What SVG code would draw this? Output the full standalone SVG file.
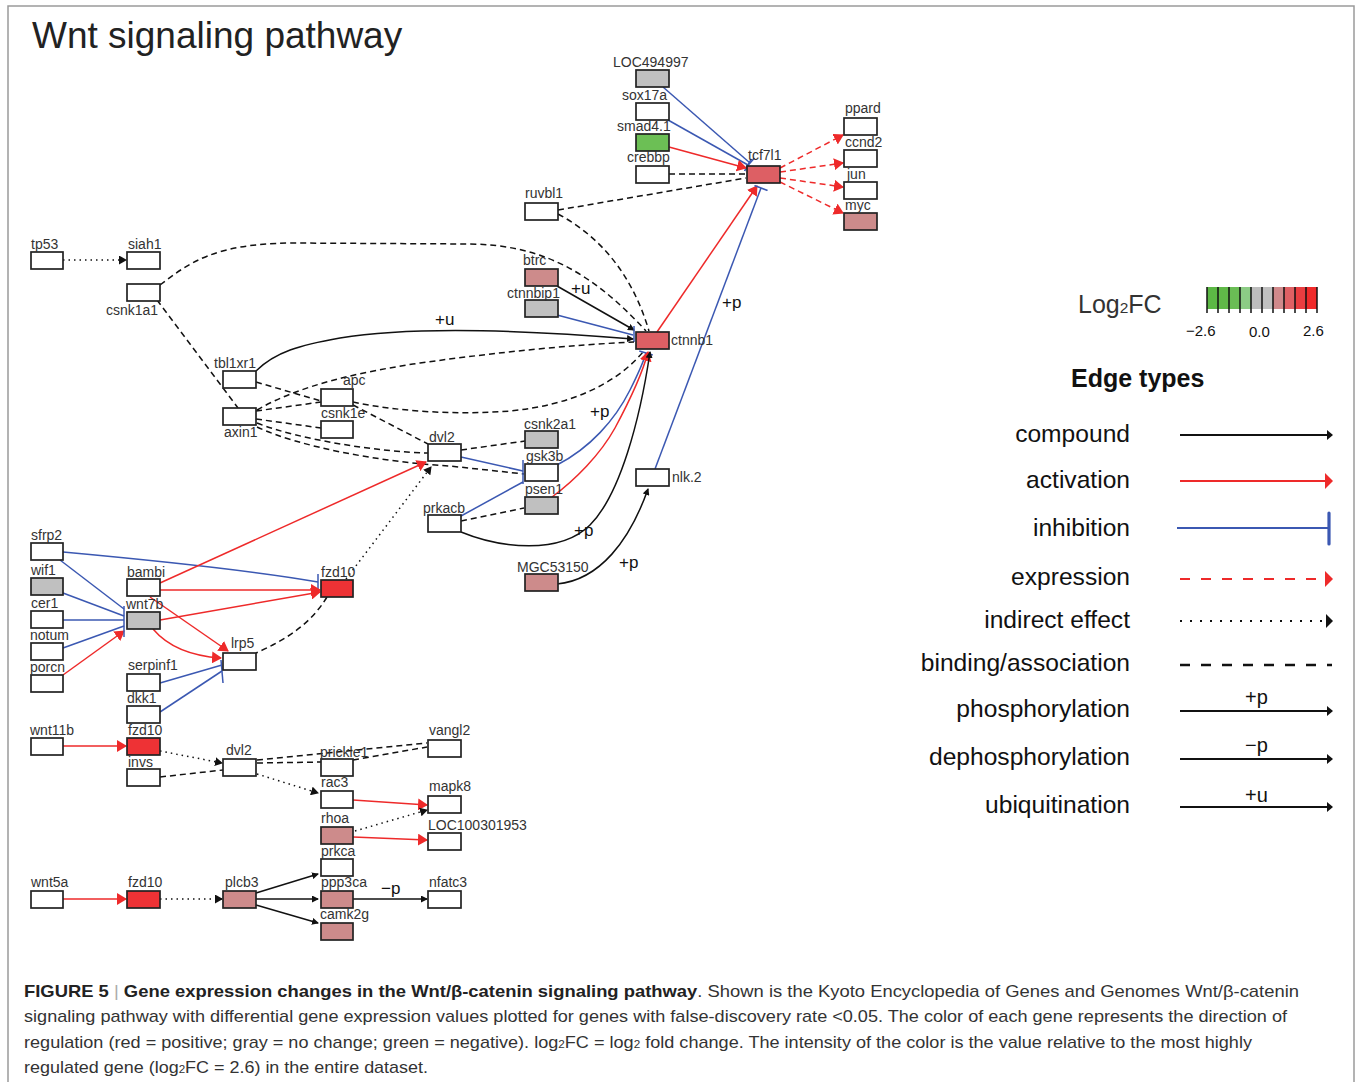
<svg xmlns="http://www.w3.org/2000/svg" width="1359" height="1082" viewBox="0 0 1359 1082">
<style>
  .n rect{stroke:#222;stroke-width:1.7}
  .w{fill:#fff}.g{fill:#c0c0c0}.gr{fill:#6cbf55}.r{fill:#dd5f64}.pk{fill:#cd8b8b}.fr{fill:#ee3235}
  .n text{font-family:"Liberation Sans",Arial,sans-serif;font-size:14px;fill:#333}
  .e{fill:none;stroke-width:1.5}
  .bk{stroke:#111}.rd{stroke:#ee2a2a}.bl{stroke:#3b58b2}
  .da{stroke-dasharray:6 4}.dt{stroke-dasharray:1.5 4}
  .el{font-family:"Liberation Sans",Arial,sans-serif;font-size:17px;fill:#111}
  .lg{font-family:"Liberation Sans",Arial,sans-serif;font-size:24.6px;fill:#111;text-anchor:end}
  .cap{font-family:"Liberation Sans",Arial,sans-serif;font-size:17px;fill:#333}
</style>
<defs>
  <marker id="ar" markerUnits="userSpaceOnUse" viewBox="0 0 10 12" markerWidth="10" markerHeight="12" refX="9" refY="6" orient="auto"><path d="M0,0 L10,6 L0,12 z" fill="#ee2a2a"/></marker>
  <marker id="ab" markerUnits="userSpaceOnUse" viewBox="0 0 7 7" markerWidth="7" markerHeight="7" refX="6" refY="3.5" orient="auto"><path d="M0,0 L7,3.5 L0,7 z" fill="#111"/></marker>
  <marker id="ad" markerUnits="userSpaceOnUse" viewBox="0 0 8 9" markerWidth="8" markerHeight="9" refX="7" refY="4.5" orient="auto"><path d="M0,0 L8,4.5 L0,9 z" fill="#111"/></marker>
  <marker id="tb" markerUnits="userSpaceOnUse" viewBox="0 0 4 14" markerWidth="4" markerHeight="14" refX="2" refY="7" orient="auto"><path d="M2,0 L2,14" stroke="#3b58b2" stroke-width="1.6"/></marker>
  <marker id="lab" markerUnits="userSpaceOnUse" viewBox="0 0 6 10" markerWidth="6" markerHeight="10" refX="5" refY="5" orient="auto"><path d="M0,0 L6,5 L0,10 z" fill="#111"/></marker>
  <marker id="lar" markerUnits="userSpaceOnUse" viewBox="0 0 8 16" markerWidth="8" markerHeight="16" refX="7" refY="8" orient="auto"><path d="M0,0 L8,8 L0,16 z" fill="#ee2a2a"/></marker>
  <marker id="lad" markerUnits="userSpaceOnUse" viewBox="0 0 7 14" markerWidth="7" markerHeight="14" refX="6" refY="7" orient="auto"><path d="M0,0 L7,7 L0,14 z" fill="#111"/></marker>
</defs>

<rect width="1359" height="1082" fill="#fff"/>
<path d="M8,1082 L8,6 L1354,6 L1354,1082" fill="none" stroke="#9a9a9a" stroke-width="1.5"/>
<text x="32" y="48" font-family="Liberation Sans,Arial,sans-serif" font-size="37" fill="#222">Wnt signaling pathway</text>

<!-- connectors -->
<g id="edges">
  <!-- tcf7l1 inputs -->
  <path class="e bl" d="M663,87 L750,163" marker-end="url(#tb)"/>
  <path class="e bl" d="M668,120 L748,165" marker-end="url(#tb)"/>
  <path class="e rd" d="M669,147 L746,168" marker-end="url(#ar)"/>
  <path class="e bk da" d="M669,174 L746,174"/>
  <path class="e bk da" d="M558,210 L746,178"/>
  <path class="e rd" d="M657,332 L757,186" marker-end="url(#ar)"/>
  <path class="e bl" d="M655,469 L761,188" marker-end="url(#tb)"/>
  <!-- tcf7l1 targets -->
  <path class="e rd da" d="M780,168 L843,135" marker-end="url(#ar)"/>
  <path class="e rd da" d="M780,172 L843,163" marker-end="url(#ar)"/>
  <path class="e rd da" d="M780,178 L843,187" marker-end="url(#ar)"/>
  <path class="e rd da" d="M780,182 L843,213" marker-end="url(#ar)"/>
  <!-- destruction complex to ctnnb1 -->
  <path class="e bk dt" d="M63,260 L126,260" marker-end="url(#ad)"/>
  <path class="e bk da" d="M160,285 C190,262 215,244 290,243 L470,244 C540,245 590,270 646,331"/>
  <path class="e bk da" d="M558,214 Q625,250 649,331"/>
  <path class="e bk" d="M557,286 L634,330" marker-end="url(#ab)"/>
  <path class="e bl" d="M557,315 L633,335"/>
  <path class="e bl" d="M634,326 L634,342" stroke-width="1.8"/>
  <path class="e bk" d="M256,371 C275,352 300,345 340,338 C400,328 500,328 633,339" marker-end="url(#ab)"/>
  <path class="e bk da" d="M257,410 C300,385 360,372 420,363 C500,352 570,345 634,342"/>
  <path class="e bk da" d="M353,402 C400,412 460,415 510,411 C570,405 615,385 643,352"/>
  <path class="e bl" d="M557,465 C590,448 615,420 630,390 C640,370 644,360 646,353" marker-end="url(#tb)"/>
  <path class="e rd" d="M552,497 C575,480 600,455 615,428 C630,400 642,375 648,352" marker-end="url(#ar)"/>
  <path class="e bk" d="M461,532 C500,548 560,555 590,525 C620,495 640,420 650,352" marker-end="url(#ab)"/>
  <path class="e bk da" d="M157,300 L238,408"/>
  <path class="e bk da" d="M256,382 L321,401"/>
  <path class="e bk da" d="M256,411 L321,402"/>
  <path class="e bk da" d="M256,419 L321,428"/>
  <path class="e bk da" d="M257,423 C300,440 380,452 428,453"/>
  <path class="e bk da" d="M257,427 C300,447 380,462 450,466 L524,474"/>
  <path class="e bk da" d="M353,405 L428,444"/>
  <path class="e bk da" d="M461,450 L525,441"/>
  <path class="e bl" d="M461,457 L523,471"/>
  <path class="e bl" d="M461,516 L523,482"/>
  <path class="e bl" d="M523,460 L523,484" stroke-width="1.8"/>
  <path class="e bk da" d="M461,521 L524,508"/>
  <path class="e bk" d="M557,584 C600,580 630,540 648,489" marker-end="url(#ab)"/>
  <!-- receptor module -->
  <path class="e bl" d="M63,552 C150,560 250,570 318,582"/>
  <path class="e bl" d="M318,574 L318,590" stroke-width="1.8"/>
  <path class="e bl" d="M60,560 L124,609"/>
  <path class="e bl" d="M63,593 L124,616"/>
  <path class="e bl" d="M63,620 L124,620"/>
  <path class="e bl" d="M63,648 L124,626"/>
  <path class="e rd" d="M63,675 L124,631" marker-end="url(#ar)"/>
  <path class="e bl" d="M124,606 L124,637" stroke-width="1.8"/>
  <path class="e rd" d="M160,583 L426,462" marker-end="url(#ar)"/>
  <path class="e rd" d="M160,590 L320,590" marker-end="url(#ar)"/>
  <path class="e rd" d="M150,597 L228,651" marker-end="url(#ar)"/>
  <path class="e rd" d="M160,620 L320,592" marker-end="url(#ar)"/>
  <path class="e rd" d="M153,629 Q175,655 221,658" marker-end="url(#ar)"/>
  <path class="e bk da" d="M327,597 C310,625 285,640 256,653"/>
  <path class="e bk dt" d="M346,579 L431,467" marker-end="url(#ad)"/>
  <path class="e bl" d="M160,683 L222,665"/>
  <path class="e bl" d="M160,712 L222,671"/>
  <path class="e bl" d="M221,660 L223,683" stroke-width="1.8"/>
  <!-- planar cell polarity branch -->
  <path class="e rd" d="M63,746 L126,746" marker-end="url(#ar)"/>
  <path class="e bk dt" d="M160,751 L222,763" marker-end="url(#ad)"/>
  <path class="e bk da" d="M160,777 L223,770"/>
  <path class="e bk da" d="M257,760 L427,743"/>
  <path class="e bk da" d="M257,763 L321,762"/>
  <path class="e bk da" d="M353,760 L427,747"/>
  <path class="e bk dt" d="M257,774 L318,793" marker-end="url(#ad)"/>
  <path class="e rd" d="M353,800 L427,805" marker-end="url(#ar)"/>
  <path class="e bk dt" d="M355,831 L427,810" marker-end="url(#ad)"/>
  <path class="e rd" d="M353,837 L427,840" marker-end="url(#ar)"/>
  <!-- calcium branch -->
  <path class="e rd" d="M63,899 L126,899" marker-end="url(#ar)"/>
  <path class="e bk dt" d="M160,899 L222,899" marker-end="url(#ad)"/>
  <path class="e bk" d="M256,893 L318,874" marker-end="url(#ab)"/>
  <path class="e bk" d="M256,899 L318,899" marker-end="url(#ab)"/>
  <path class="e bk" d="M256,905 L318,923" marker-end="url(#ab)"/>
  <path class="e bk" d="M353,899 L427,899" marker-end="url(#ab)"/>
  <!-- edge labels -->
  <text class="el" x="435" y="325">+u</text>
  <text class="el" x="571" y="294">+u</text>
  <text class="el" x="722" y="308">+p</text>
  <text class="el" x="590" y="417">+p</text>
  <text class="el" x="574" y="536">+p</text>
  <text class="el" x="619" y="568">+p</text>
  <text class="el" x="381" y="894">−p</text>
</g>

<!-- nodes -->
<g id="n-LOC494997" class="n"><rect class="g" x="636" y="70" width="33" height="17"/><text x="613" y="67">LOC494997</text></g>
<g id="n-sox17a" class="n"><rect class="w" x="636" y="103" width="33" height="17"/><text x="622" y="100">sox17a</text></g>
<g id="n-smad4.1" class="n"><rect class="gr" x="636" y="134" width="33" height="17"/><text x="617" y="131">smad4.1</text></g>
<g id="n-crebbp" class="n"><rect class="w" x="636" y="166" width="33" height="17"/><text x="627" y="162">crebbp</text></g>
<g id="n-tcf7l1" class="n"><rect class="r" x="747" y="166" width="33" height="17"/><text x="748" y="160">tcf7l1</text></g>
<g id="n-ppard" class="n"><rect class="w" x="844" y="118" width="33" height="17"/><text x="845" y="113">ppard</text></g>
<g id="n-ccnd2" class="n"><rect class="w" x="844" y="150" width="33" height="17"/><text x="845" y="147">ccnd2</text></g>
<g id="n-jun" class="n"><rect class="w" x="844" y="182" width="33" height="17"/><text x="847" y="179">jun</text></g>
<g id="n-myc" class="n"><rect class="pk" x="844" y="213" width="33" height="17"/><text x="845" y="210">myc</text></g>
<g id="n-ruvbl1" class="n"><rect class="w" x="525" y="203" width="33" height="17"/><text x="525" y="198">ruvbl1</text></g>
<g id="n-tp53" class="n"><rect class="w" x="31" y="252" width="32" height="17"/><text x="31" y="249">tp53</text></g>
<g id="n-siah1" class="n"><rect class="w" x="127" y="252" width="33" height="17"/><text x="128" y="249">siah1</text></g>
<g id="n-csnk1a1" class="n"><rect class="w" x="127" y="284" width="33" height="17"/><text x="106" y="315">csnk1a1</text></g>
<g id="n-btrc" class="n"><rect class="pk" x="525" y="269" width="33" height="17"/><text x="523" y="265">btrc</text></g>
<g id="n-ctnnbip1" class="n"><rect class="g" x="525" y="300" width="33" height="17"/><text x="507" y="298">ctnnbip1</text></g>
<g id="n-ctnnb1" class="n"><rect class="r" x="636" y="332" width="33" height="17"/><text x="671" y="345">ctnnb1</text></g>
<g id="n-tbl1xr1" class="n"><rect class="w" x="223" y="371" width="33" height="17"/><text x="214" y="368">tbl1xr1</text></g>
<g id="n-apc" class="n"><rect class="w" x="321" y="389" width="32" height="17"/><text x="343" y="385">apc</text></g>
<g id="n-axin1" class="n"><rect class="w" x="223" y="408" width="33" height="17"/><text x="224" y="437">axin1</text></g>
<g id="n-csnk1e" class="n"><rect class="w" x="321" y="421" width="32" height="17"/><text x="321" y="418">csnk1e</text></g>
<g id="n-dvl2" class="n"><rect class="w" x="428" y="444" width="33" height="17"/><text x="429" y="442">dvl2</text></g>
<g id="n-csnk2a1" class="n"><rect class="g" x="525" y="431" width="33" height="17"/><text x="524" y="429">csnk2a1</text></g>
<g id="n-gsk3b" class="n"><rect class="w" x="525" y="464" width="33" height="17"/><text x="526" y="461">gsk3b</text></g>
<g id="n-psen1" class="n"><rect class="g" x="525" y="497" width="33" height="17"/><text x="525" y="494">psen1</text></g>
<g id="n-prkacb" class="n"><rect class="w" x="428" y="515" width="33" height="17"/><text x="423" y="513">prkacb</text></g>
<g id="n-nlk.2" class="n"><rect class="w" x="636" y="469" width="33" height="17"/><text x="672" y="482">nlk.2</text></g>
<g id="n-MGC53150" class="n"><rect class="pk" x="525" y="574" width="33" height="17"/><text x="517" y="572">MGC53150</text></g>
<g id="n-sfrp2" class="n"><rect class="w" x="31" y="543" width="32" height="17"/><text x="31" y="540">sfrp2</text></g>
<g id="n-wif1" class="n"><rect class="g" x="31" y="578" width="32" height="17"/><text x="31" y="575">wif1</text></g>
<g id="n-cer1" class="n"><rect class="w" x="31" y="611" width="32" height="17"/><text x="31" y="608">cer1</text></g>
<g id="n-notum" class="n"><rect class="w" x="31" y="643" width="32" height="17"/><text x="30" y="640">notum</text></g>
<g id="n-porcn" class="n"><rect class="w" x="31" y="675" width="32" height="17"/><text x="30" y="672">porcn</text></g>
<g id="n-bambi" class="n"><rect class="w" x="127" y="579" width="33" height="17"/><text x="127" y="577">bambi</text></g>
<g id="n-wnt7b" class="n"><rect class="g" x="127" y="612" width="33" height="17"/><text x="126" y="609">wnt7b</text></g>
<g id="n-fzd10-a" class="n"><rect class="fr" x="321" y="580" width="32" height="17"/><text x="321" y="577">fzd10</text></g>
<g id="n-lrp5" class="n"><rect class="w" x="223" y="653" width="33" height="17"/><text x="231" y="648">lrp5</text></g>
<g id="n-serpinf1" class="n"><rect class="w" x="127" y="674" width="33" height="17"/><text x="128" y="670">serpinf1</text></g>
<g id="n-dkk1" class="n"><rect class="w" x="127" y="706" width="33" height="17"/><text x="127" y="703">dkk1</text></g>
<g id="n-wnt11b" class="n"><rect class="w" x="31" y="738" width="32" height="17"/><text x="30" y="735">wnt11b</text></g>
<g id="n-fzd10-b" class="n"><rect class="fr" x="127" y="738" width="33" height="17"/><text x="128" y="735">fzd10</text></g>
<g id="n-invs" class="n"><rect class="w" x="127" y="769" width="33" height="17"/><text x="128" y="767">invs</text></g>
<g id="n-dvl2-b" class="n"><rect class="w" x="223" y="759" width="33" height="17"/><text x="226" y="755">dvl2</text></g>
<g id="n-prickle1" class="n"><rect class="w" x="321" y="759" width="32" height="17"/><text x="320" y="757">prickle1</text></g>
<g id="n-vangl2" class="n"><rect class="w" x="428" y="740" width="33" height="17"/><text x="429" y="735">vangl2</text></g>
<g id="n-rac3" class="n"><rect class="w" x="321" y="791" width="32" height="17"/><text x="321" y="787">rac3</text></g>
<g id="n-mapk8" class="n"><rect class="w" x="428" y="796" width="33" height="17"/><text x="429" y="791">mapk8</text></g>
<g id="n-rhoa" class="n"><rect class="pk" x="321" y="827" width="32" height="17"/><text x="321" y="823">rhoa</text></g>
<g id="n-LOC100301953" class="n"><rect class="w" x="428" y="833" width="33" height="17"/><text x="428" y="830">LOC100301953</text></g>
<g id="n-prkca" class="n"><rect class="w" x="321" y="859" width="32" height="17"/><text x="321" y="856">prkca</text></g>
<g id="n-wnt5a" class="n"><rect class="w" x="31" y="891" width="32" height="17"/><text x="31" y="887">wnt5a</text></g>
<g id="n-fzd10-c" class="n"><rect class="fr" x="127" y="891" width="33" height="17"/><text x="128" y="887">fzd10</text></g>
<g id="n-plcb3" class="n"><rect class="pk" x="223" y="891" width="33" height="17"/><text x="225" y="887">plcb3</text></g>
<g id="n-ppp3ca" class="n"><rect class="pk" x="321" y="891" width="32" height="17"/><text x="321" y="887">ppp3ca</text></g>
<g id="n-nfatc3" class="n"><rect class="w" x="428" y="891" width="33" height="17"/><text x="429" y="887">nfatc3</text></g>
<g id="n-camk2g" class="n"><rect class="pk" x="321" y="923" width="32" height="17"/><text x="320" y="919">camk2g</text></g>

<!-- colour scale -->
<g id="colour-scale">
  <text x="1078" y="313" font-family="Liberation Sans,Arial,sans-serif" font-size="25" fill="#333">Log<tspan font-size="15.5">2</tspan>FC</text>
  <rect x="1207" y="287" width="11" height="22" fill="#5cb845"/>
  <rect x="1218" y="287" width="11" height="22" fill="#60b948"/>
  <rect x="1229" y="287" width="11" height="22" fill="#6abd55"/>
  <rect x="1240" y="287" width="11" height="22" fill="#8ccc85"/>
  <rect x="1251" y="287" width="11" height="22" fill="#bdbdbd"/>
  <rect x="1262" y="287" width="11" height="22" fill="#c0c0c0"/>
  <rect x="1273" y="287" width="11" height="22" fill="#d0898b"/>
  <rect x="1284" y="287" width="11" height="22" fill="#e06064"/>
  <rect x="1295" y="287" width="11" height="22" fill="#ea3d40"/>
  <rect x="1306" y="287" width="11" height="22" fill="#f02a2a"/>
  <path d="M1207,287V313M1218,287V313M1229,287V313M1240,287V313M1251,287V313M1262,287V313M1273,287V313M1284,287V313M1295,287V313M1306,287V313M1317,287V313" stroke="#111" stroke-width="1.5"/>
  <g font-family="Liberation Sans,Arial,sans-serif" font-size="15" fill="#111">
    <text x="1186" y="336">−2.6</text>
    <text x="1249" y="337">0.0</text>
    <text x="1303" y="336">2.6</text>
  </g>
</g>

<!-- edge type key -->
<g id="legend">
  <text x="1071" y="387" font-family="Liberation Sans,Arial,sans-serif" font-size="25" font-weight="bold" fill="#111">Edge types</text>
  <text class="lg" x="1130" y="442">compound</text>
  <text class="lg" x="1130" y="488">activation</text>
  <text class="lg" x="1130" y="536">inhibition</text>
  <text class="lg" x="1130" y="585">expression</text>
  <text class="lg" x="1130" y="628">indirect effect</text>
  <text class="lg" x="1130" y="671">binding/association</text>
  <text class="lg" x="1130" y="717">phosphorylation</text>
  <text class="lg" x="1130" y="765">dephosphorylation</text>
  <text class="lg" x="1130" y="813">ubiquitination</text>
  <path d="M1180,435 L1332,435" stroke="#111" stroke-width="2" marker-end="url(#lab)"/>
  <path d="M1180,481 L1332,481" stroke="#ee2a2a" stroke-width="2" marker-end="url(#lar)"/>
  <path d="M1177,528 L1329,528" stroke="#3b58b2" stroke-width="2"/>
  <path d="M1329,513 L1329,544" stroke="#3b58b2" stroke-width="3.2" stroke-linecap="round"/>
  <path d="M1180,579 L1332,579" stroke="#ee2a2a" stroke-width="2" stroke-dasharray="10 11" marker-end="url(#lar)"/>
  <path d="M1180,621 L1332,621" stroke="#111" stroke-width="2" stroke-dasharray="2 8" marker-end="url(#lad)"/>
  <path d="M1180,665 L1332,665" stroke="#111" stroke-width="2.4" stroke-dasharray="10 11"/>
  <path d="M1180,711 L1332,711" stroke="#111" stroke-width="2" marker-end="url(#lab)"/>
  <path d="M1180,759 L1332,759" stroke="#111" stroke-width="2" marker-end="url(#lab)"/>
  <path d="M1180,807 L1332,807" stroke="#111" stroke-width="2" marker-end="url(#lab)"/>
  <g font-family="Liberation Sans,Arial,sans-serif" font-size="20" fill="#111">
    <text x="1245" y="704">+p</text>
    <text x="1245" y="752">−p</text>
    <text x="1245" y="802">+u</text>
  </g>
</g>

<!-- caption -->
<g id="caption" class="cap">
  <text x="24" y="997" textLength="1275" lengthAdjust="spacingAndGlyphs"><tspan font-weight="bold" fill="#222">FIGURE 5</tspan><tspan fill="#aaa"> | </tspan><tspan font-weight="bold" fill="#222">Gene expression changes in the Wnt/β-catenin signaling pathway</tspan>. Shown is the Kyoto Encyclopedia of Genes and Genomes Wnt/β-catenin</text>
  <text x="24" y="1022" textLength="1263" lengthAdjust="spacingAndGlyphs">signaling pathway with differential gene expression values plotted for genes with false-discovery rate &lt;0.05. The color of each gene represents the direction of</text>
  <text x="24" y="1048" textLength="1228" lengthAdjust="spacingAndGlyphs">regulation (red = positive; gray = no change; green = negative). log<tspan font-size="11">2</tspan>FC = log<tspan font-size="11">2</tspan> fold change. The intensity of the color is the value relative to the most highly</text>
  <text x="24" y="1073" textLength="404" lengthAdjust="spacingAndGlyphs">regulated gene (log<tspan font-size="11">2</tspan>FC = 2.6) in the entire dataset.</text>
</g>
</svg>
